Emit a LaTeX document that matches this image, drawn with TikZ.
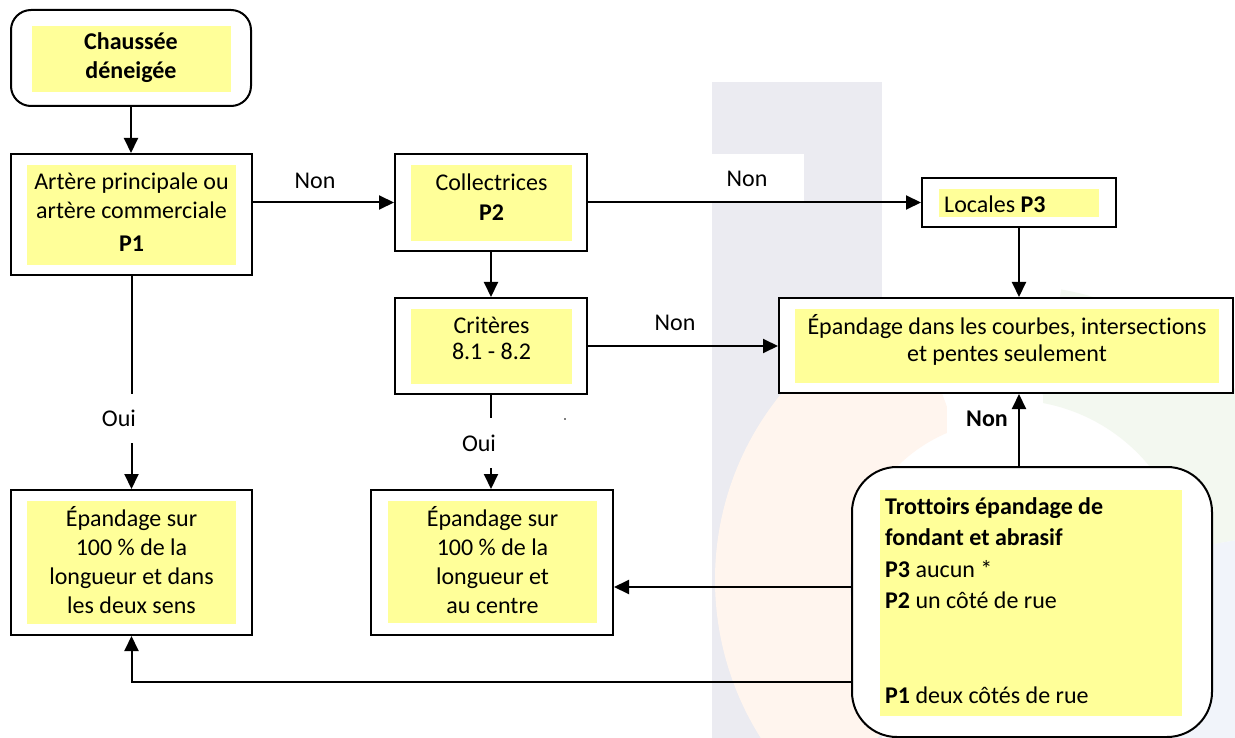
\documentclass[tikz,border=0pt]{standalone}
\usepackage{fontspec}
\setmainfont{Carlito}[Ligatures=NoCommon]
\usetikzlibrary{arrows.meta}
\definecolor{ylw}{HTML}{FFFF99}
\definecolor{wmgrey}{HTML}{EBEBF1}
\definecolor{wmorange}{HTML}{FFF5EE}
\definecolor{wmgreen}{HTML}{F3F8F0}
\definecolor{wmblue}{HTML}{F1F4FA}
\begin{document}
\begin{tikzpicture}[x=1pt,y=-1pt,
  box/.style={draw=black, line width=2pt, fill=white, inner sep=0pt},
  txt/.style={font=\fontsize{24}{29}\selectfont, align=center, inner sep=0pt},
  arr/.style={line width=2pt, -{Triangle[length=15pt,width=14pt]}},
  lbl/.style={font=\fontsize{24}{29}\selectfont, inner sep=0pt}]
\useasboundingbox (0,0) rectangle (1235,738);
\fill[white] (0,0) rectangle (1235,738);
% faint watermark
\fill[wmgrey] (712,82) rectangle (882,738);
\fill[wmorange] ([shift={(1010,580)}]130:295) arc[start angle=130,end angle=250,radius=295]
  -- ([shift={(1010,580)}]250:160) arc[start angle=250,end angle=130,radius=160] -- cycle;
\fill[wmgreen] ([shift={(1010,580)}]280:295) arc[start angle=280,end angle=350,radius=295]
  -- ([shift={(1010,580)}]350:180) arc[start angle=350,end angle=280,radius=180] -- cycle;
\fill[wmblue] ([shift={(1010,580)}]350:295) arc[start angle=350,end angle=420,radius=295]
  -- ([shift={(1010,580)}]420:180) arc[start angle=420,end angle=350,radius=180] -- cycle;
\fill[white] (712,154) rectangle (804,202);
\fill[white] (947,395) rectangle (1043,442);

% boxes
\node[box, rounded corners=20pt, minimum width=240pt, minimum height=96pt] (start) at (131,58) {};
\fill[ylw] (32,26) rectangle (231,92);
\node[txt, font=\fontsize{24}{29}\bfseries] (startT) at (131,57.5) {Chaussée\\déneigée};

\node[box, minimum width=241pt, minimum height=121pt] (art) at (131.5,214.5) {};
\fill[ylw] (27,165) rectangle (236,265);
\node[txt] (artT) at (131.5,212) {Artère principale ou\\artère commerciale\\[4pt]\textbf{P1}};

\node[box, minimum width=192pt, minimum height=97pt] (coll) at (491,202.5) {};
\fill[ylw] (411,165) rectangle (572,241);
\node[txt] (collT) at (491.5,197) {Collectrices\\[1pt]\textbf{P2}};

\node[box, minimum width=192pt, minimum height=96pt] (crit) at (491,346) {};
\fill[ylw] (411,309) rectangle (572,384);
\node[txt, font=\fontsize{24}{26}\selectfont] (critT) at (491.5,338) {Critères\\8.1 - 8.2};

\node[box, minimum width=194pt, minimum height=49pt] (loc) at (1019,202.5) {};
\fill[ylw] (939,189) rectangle (1099,217);
\node[txt, anchor=west] (locT) at (944,204) {Locales \textbf{P3}};

\node[box, minimum width=454pt, minimum height=95pt] (courbes) at (1006,345.5) {};
\fill[ylw] (795,309) rectangle (1219,383);
\node[txt, font=\fontsize{24}{27}\selectfont] (courbesT) at (1007,339.5) {Épandage dans les courbes, intersections\\et pentes seulement};

\node[box, minimum width=241pt, minimum height=145pt] (lb) at (131.5,562.5) {};
\fill[ylw] (27,501) rectangle (236,624);
\node[txt] (lbT) at (131.5,560) {Épandage sur\\100 \% de la\\longueur et dans\\les deux sens};

\node[box, minimum width=242pt, minimum height=145pt] (cb) at (492,562.5) {};
\fill[ylw] (388,501) rectangle (597,623);
\node[txt] (cbT) at (492.5,560) {Épandage sur\\100 \% de la\\longueur et\\au centre};

\node[box, rounded corners=45pt, minimum width=360pt, minimum height=270pt] (trott) at (1032,602) {};
\fill[ylw] (880,490) rectangle (1182,716);
\node[txt, align=left, anchor=north west, font=\fontsize{24}{31.5}\selectfont] (trottT) at (885,497)
  {\textbf{Trottoirs épandage de}\\\textbf{fondant et abrasif}\\\textbf{P3} aucun *\\\textbf{P2} un côté de rue\\[63pt]\textbf{P1} deux côtés de rue};

% connectors
\draw[arr] (start.south) -- (start.south |- art.north);
\draw[arr] (art.east |- coll.west) -- (coll.west);
\draw[arr] (coll.east) -- (coll.east -| loc.west);
\draw[arr] (coll.south) -- (crit.north);
\draw[arr] (loc.south) -- (loc.south |- courbes.north);
\draw[arr] (crit.east) -- (crit.east -| courbes.west);
\draw[arr] (art.south) -- (art.south |- lb.north);
\draw[arr] (crit.south) -- (crit.south |- cb.north);
\draw[arr] (trott.north -| loc.south) -- (loc.south |- courbes.south);
\draw[arr] (trott.west |- 0,587) -- (cb.east |- 0,587);
\draw[arr] (trott.west |- 0,682) -- (lb.south |- 0,682) -- (lb.south);

% labels
\node[lbl] (non1) at (315,181) {Non};
\node[lbl] (non2) at (747,179) {Non};
\node[lbl] (non3) at (675,323) {Non};
\node[lbl, font=\fontsize{24}{29}\bfseries] (non4) at (987,419) {Non};
\node[lbl, fill=white, minimum height=49pt, inner xsep=3pt] (oui1) at (119,418.5) {Oui};
\node[lbl, fill=white, minimum height=50pt, inner xsep=3pt] (oui2) at (479,443) {Oui};
\fill[gray] (564,417.5) rectangle (566,419.5);
\end{tikzpicture}
\end{document}
